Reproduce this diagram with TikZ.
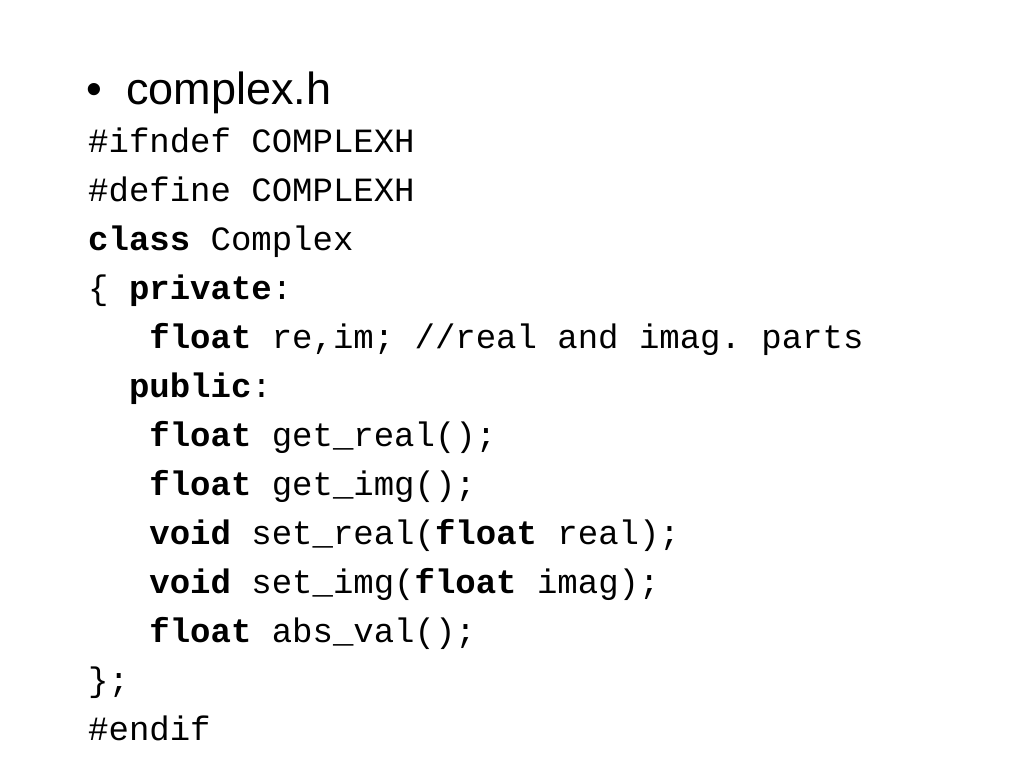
\documentclass[tikz,border=0pt]{standalone}
\usepackage{fontspec}
\setmainfont{Liberation Sans}
\setmonofont{Liberation Mono}
\begin{document}
\begin{tikzpicture}[x=1pt,y=1pt,
  code/.style={anchor=base west,inner sep=0pt,font=\fontsize{34}{40}\selectfont\ttfamily}]
\useasboundingbox[fill=white] (0,0) rectangle (1024,-768);
\node[anchor=base west,inner sep=0pt,font=\fontsize{45}{50}\selectfont] (bul) at (86,-104) {\textbullet};
\node[anchor=base west,inner sep=0pt,font=\fontsize{45}{50}\selectfont] (title) at (126,-104) {complex.h};
\def\cw{20.4}
\node[code] (l1) at (88,-152) {\#ifndef COMPLEXH};
\node[code] (l2) at (88,-201) {\#define COMPLEXH};
\node[code] (l3) at (88,-250) {\textbf{class} Complex};
\node[code] (l4) at (88,-299) {\{ \textbf{private}:};
\node[code] (l5) at (88+3*\cw,-348) {\textbf{float} re,im; //real and imag. parts};
\node[code] (l6) at (88+2*\cw,-397) {\textbf{public}:};
\node[code] (l7) at (88+3*\cw,-446) {\textbf{float} get\_real();};
\node[code] (l8) at (88+3*\cw,-495) {\textbf{float} get\_img();};
\node[code] (l9) at (88+3*\cw,-544) {\textbf{void} set\_real(\textbf{float} real);};
\node[code] (l10) at (88+3*\cw,-593) {\textbf{void} set\_img(\textbf{float} imag);};
\node[code] (l11) at (88+3*\cw,-642) {\textbf{float} abs\_val();};
\node[code] (l12) at (88,-691) {\};};
\node[code] (l13) at (88,-740) {\#endif};
\end{tikzpicture}
\end{document}
